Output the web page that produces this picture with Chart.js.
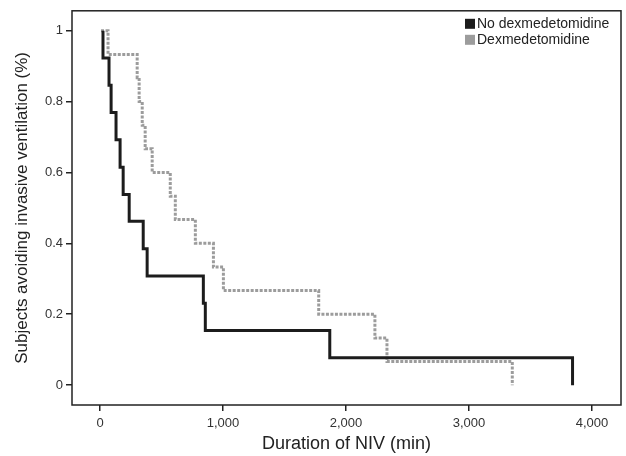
<!DOCTYPE html>
<html>
<head>
<meta charset="utf-8">
<script src="https://cdn.jsdelivr.net/npm/chart.js@4.4.1/dist/chart.umd.min.js"></script>
<style>
  html, body { margin: 0; padding: 0; background: #fff; }
  #wrap { width: 626px; height: 456px; }
</style>
</head>
<body>
<div id="wrap"><canvas id="kmChart"></canvas></div>
<script>
// Kaplan-Meier curves
const noDexTimes = [24, 24, 73, 90, 130, 163, 188, 237, 351, 383, 840, 856, 1868, 3842];
const noDexSurv  = [1, 0.923, 0.846, 0.769, 0.692, 0.615, 0.538, 0.462, 0.385, 0.308, 0.231, 0.154, 0.077, 0];

const dexTimes = [8, 65, 302, 318, 343, 367, 424, 571, 612, 775, 922, 1003, 1778, 2235, 2333, 3352];
const dexSurv  = [1, 0.933, 0.867, 0.8, 0.733, 0.667, 0.6, 0.533, 0.467, 0.4, 0.333, 0.267, 0.2, 0.133, 0.067, 0];

const seriesNames = ['No dexmedetomidine', 'Dexmedetomidine'];
const xTicks = [0, 1000, 2000, 3000, 4000];
const yTicks = [0, 0.2, 0.4, 0.6, 0.8, 1];

const FONT = "'Liberation Sans', Arial, sans-serif";
const INK = '#222';

function toPoints(xs, ys) {
  return xs.map((x, i) => ({ x: x, y: ys[i] }));
}

// frame round the plot area + legend in the top right corner
const framePlugin = {
  id: 'frame',
  afterDraw(chart) {
    const { ctx, chartArea: a } = chart;
    ctx.save();
    ctx.strokeStyle = INK;
    ctx.lineWidth = 1.5;
    ctx.strokeRect(a.left, a.top, a.right - a.left, a.bottom - a.top);

    ctx.font = '14px ' + FONT;
    ctx.textBaseline = 'middle';
    chart.data.datasets.forEach((ds, i) => {
      const y = a.top + 13 + i * 16;
      ctx.fillStyle = ds.borderColor;
      ctx.fillRect(465, y - 5, 10, 10);
      ctx.fillStyle = INK;
      ctx.fillText(ds.label, 477, y + 0.5);
    });
    ctx.restore();
  }
};

new Chart(document.getElementById('kmChart'), {
  type: 'line',
  data: {
    datasets: [{
      label: seriesNames[0],
      data: toPoints(noDexTimes, noDexSurv),
      borderColor: '#1c1c1c',
      borderWidth: 3,
      stepped: 'before',
      pointRadius: 0,
      fill: false
    }, {
      label: seriesNames[1],
      data: toPoints(dexTimes, dexSurv),
      borderColor: '#9c9c9c',
      borderWidth: 3,
      borderDash: [3, 1.5],
      stepped: 'before',
      pointRadius: 0,
      fill: false
    }]
  },
  options: {
    responsive: true,
    maintainAspectRatio: false,
    animation: false,
    layout: { padding: { top: 7, right: 5, left: 0, bottom: 0 } },
    plugins: {
      legend: { display: false },
      tooltip: { enabled: false }
    },
    scales: {
      x: {
        type: 'linear',
        min: -228,
        max: 4236,
        afterBuildTicks: s => { s.ticks = xTicks.map(v => ({ value: v })); },
        afterFit: s => { s.height = 51; },
        ticks: {
          callback: v => v.toLocaleString('en-US'),
          font: { family: FONT, size: 13 },
          color: '#333',
          padding: 5,
          maxRotation: 0
        },
        grid: { drawOnChartArea: false, drawTicks: true, tickLength: 6, color: INK, lineWidth: 1.5 },
        border: { display: false },
        title: {
          display: true,
          text: 'Duration of NIV (min)',
          font: { family: FONT, size: 18 },
          color: INK,
          padding: { top: 0, bottom: 1 }
        }
      },
      y: {
        type: 'linear',
        min: -0.056,
        max: 1.056,
        afterBuildTicks: s => { s.ticks = yTicks.map(v => ({ value: v })); },
        afterFit: s => { s.width = 72; },
        ticks: {
          callback: v => String(Math.round(v * 10) / 10),
          font: { family: FONT, size: 13 },
          color: '#333',
          padding: 3
        },
        grid: { drawOnChartArea: false, drawTicks: true, tickLength: 6, color: INK, lineWidth: 1.5 },
        border: { display: false },
        title: {
          display: true,
          text: 'Subjects avoiding invasive ventilation (%)',
          font: { family: FONT, size: 17 },
          color: INK,
          padding: { top: 12, bottom: 0 }
        }
      }
    }
  },
  plugins: [framePlugin]
});
</script>
</body>
</html>
